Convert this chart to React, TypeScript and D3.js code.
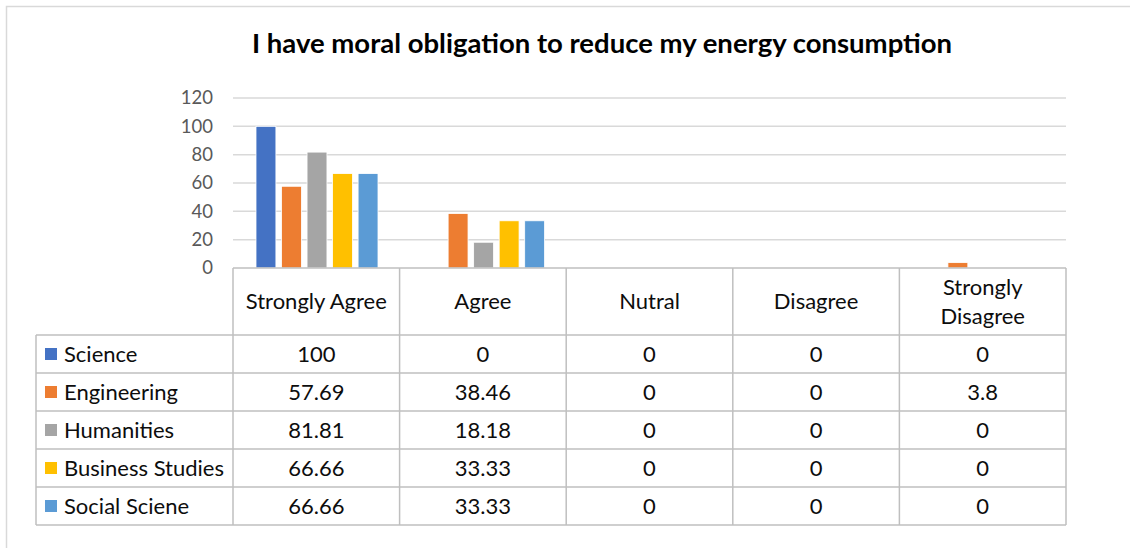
import React, { useEffect, useRef } from "react";
import * as d3 from "d3";

// chart data
const categories = ["Strongly Agree", "Agree", "Nutral", "Disagree", "Strongly Disagree"];
const headerLines = [["Strongly Agree"], ["Agree"], ["Nutral"], ["Disagree"], ["Strongly", "Disagree"]];
const seriesNames = ["Science", "Engineering", "Humanities", "Business Studies", "Social Sciene"];
const science = [100, 0, 0, 0, 0];
const engineering = [57.69, 38.46, 0, 0, 3.8];
const humanities = [81.81, 18.18, 0, 0, 0];
const business = [66.66, 33.33, 0, 0, 0];
const social = [66.66, 33.33, 0, 0, 0];
const seriesColors = ["#4472c4", "#ed7d31", "#a5a5a5", "#ffc000", "#5b9bd5"];
const yTicks = [0, 20, 40, 60, 80, 100, 120];

const FONT = "Lato, 'Open Sans', sans-serif";

function App() {
  const ref = useRef<SVGSVGElement>(null);

  useEffect(() => {
    const svg = d3.select(ref.current);
    svg.selectAll("*").remove();

    const width = 1130, height = 548;
    const left = 233, right = 1066, top = 98, base = 268;
    const rowH = 38, headerH = 67, legendLeft = 36;
    const values = [science, engineering, humanities, business, social];

    // outer chart frame (right / bottom edges are cropped)
    svg.append("rect")
      .attr("x", 6.5).attr("y", 6.5)
      .attr("width", width + 20).attr("height", height + 20)
      .attr("fill", "white")
      .attr("stroke", "#d9d9d9").attr("stroke-width", 1.5);

    svg.append("text")
      .attr("x", 602).attr("y", 53)
      .attr("text-anchor", "middle")
      .style("font-family", FONT).style("font-weight", 700)
      .style("font-size", "27.5px").attr("fill", "#000")
      .text("I have moral obligation to reduce my energy consumption");

    const x0 = d3.scaleBand().domain(categories).range([left, right]).padding(0);
    const x1 = d3.scaleBand().domain(seriesNames)
      .range([23, x0.bandwidth() - 21.6]).paddingInner(0.22).paddingOuter(0);
    const y = d3.scaleLinear().domain([0, 120]).range([base, top]);

    // gridlines
    svg.append("g").selectAll("line")
      .data(yTicks.filter(t => t > 0))
      .join("line")
      .attr("x1", left).attr("x2", right)
      .attr("y1", d => y(d)).attr("y2", d => y(d))
      .attr("stroke", "#d9d9d9").attr("stroke-width", 1.5);

    // tick labels
    svg.append("g").selectAll("text")
      .data(yTicks)
      .join("text")
      .attr("x", 213).attr("y", d => y(d))
      .attr("dy", "0.35em")
      .attr("text-anchor", "end")
      .style("font-family", FONT).style("font-size", "18.5px")
      .attr("fill", "#595959")
      .text(d => d);

    // bars
    const bars: { cat: string; s: string; v: number; c: string }[] = [];
    seriesNames.forEach((s, i) => {
      categories.forEach((cat, j) => {
        if (values[i][j] > 0) bars.push({ cat, s, v: values[i][j], c: seriesColors[i] });
      });
    });
    svg.append("g").selectAll("rect")
      .data(bars)
      .join("rect")
      .attr("x", d => (x0(d.cat) as number) + (x1(d.s) as number))
      .attr("width", x1.bandwidth())
      .attr("y", d => y(d.v))
      .attr("height", d => base - y(d.v))
      .attr("fill", d => d.c)
      .attr("stroke", "white").attr("stroke-width", 0.8);

    // data table
    const tbl = svg.append("g");
    const lineColor = "#bfbfbf";
    const rowTop = base + headerH;
    const tableBottom = rowTop + rowH * seriesNames.length;

    // horizontal lines
    tbl.append("line")
      .attr("x1", left).attr("x2", right).attr("y1", base).attr("y2", base)
      .attr("stroke", lineColor).attr("stroke-width", 1.5);
    d3.range(seriesNames.length + 1).forEach(i => {
      tbl.append("line")
        .attr("x1", legendLeft).attr("x2", right)
        .attr("y1", rowTop + i * rowH).attr("y2", rowTop + i * rowH)
        .attr("stroke", lineColor).attr("stroke-width", 1.5);
    });
    // vertical lines
    tbl.append("line")
      .attr("x1", legendLeft).attr("x2", legendLeft)
      .attr("y1", rowTop).attr("y2", tableBottom)
      .attr("stroke", lineColor).attr("stroke-width", 1.5);
    categories.concat(["end"]).forEach((c, i) => {
      const xx = i < categories.length ? (x0(c) as number) : right;
      tbl.append("line")
        .attr("x1", xx).attr("x2", xx)
        .attr("y1", base).attr("y2", tableBottom)
        .attr("stroke", lineColor).attr("stroke-width", 1.5);
    });

    // header text
    categories.forEach((c, i) => {
      const lines = headerLines[i];
      const cx = (x0(c) as number) + x0.bandwidth() / 2;
      const cy = base + headerH / 2;
      const lh = 29;
      lines.forEach((ln, k) => {
        tbl.append("text")
          .attr("x", cx)
          .attr("y", cy + (k - (lines.length - 1) / 2) * lh)
          .attr("dy", "0.35em")
          .attr("text-anchor", "middle")
          .style("font-family", FONT).style("font-size", "22px")
          .attr("fill", "#0d0d0d")
          .text(ln);
      });
    });

    // rows
    seriesNames.forEach((s, i) => {
      const cy = rowTop + i * rowH + rowH / 2;
      tbl.append("rect")
        .attr("x", 45).attr("y", cy - 6).attr("width", 12).attr("height", 12)
        .attr("fill", seriesColors[i]);
      tbl.append("text")
        .attr("x", 64).attr("y", cy).attr("dy", "0.35em")
        .style("font-family", FONT).style("font-size", "22px")
        .attr("fill", "#0d0d0d")
        .text(s);
      categories.forEach((c, j) => {
        tbl.append("text")
          .attr("x", (x0(c) as number) + x0.bandwidth() / 2)
          .attr("y", cy).attr("dy", "0.35em")
          .attr("text-anchor", "middle")
          .style("font-family", FONT).style("font-size", "22px")
          .attr("fill", "#0d0d0d")
          .text(values[i][j]);
      });
    });
  }, []);

  return (
    <div style={{ position: "absolute", left: 0, top: 0 }}>
      <svg ref={ref} width={1130} height={548} style={{ display: "block" }} />
    </div>
  );
}

export default App;
